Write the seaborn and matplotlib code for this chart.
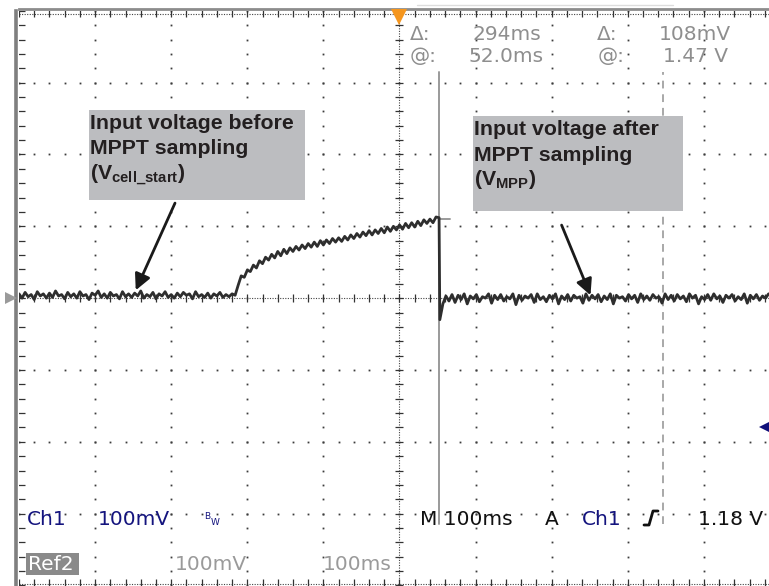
import numpy as np
import pandas as pd
import seaborn as sns
import matplotlib.pyplot as plt
from matplotlib.lines import Line2D
from matplotlib.patches import Rectangle

# scope settings
time_div = 100          # ms/div
volt_div = 0.1          # V/div
center_v = 1.36         # V at screen centre
sample_ms = 4

# cursor readouts
cursor_t = 52.0
delta_t = 294
cursor_v = 1.47
trig_level = 1.18

# trace (mV)
pre_start = -500
pre_mv = [
    1366, 1360, 1368, 1362, 1365, 1358, 1369, 1363, 1366, 1360,
    1367, 1361, 1370, 1363, 1365, 1359, 1368, 1362, 1366, 1360,
    1369, 1363, 1365, 1358, 1367, 1364, 1370, 1361, 1366, 1360,
    1368, 1363, 1365, 1359, 1369, 1362, 1366, 1361, 1367, 1363,
    1370, 1360, 1365, 1362, 1368, 1359, 1366, 1363, 1369, 1361,
    1365, 1360, 1367, 1362, 1368, 1364, 1366, 1359, 1369, 1362,
    1365, 1361, 1367, 1360, 1366, 1363, 1368, 1361, 1365, 1362, 1366]
rise_start = -216
rise_mv = [
    1364, 1378, 1391, 1389, 1399, 1397, 1406, 1402, 1412, 1408,
    1417, 1413, 1421, 1416, 1425, 1419, 1428, 1422, 1430, 1425,
    1432, 1427, 1434, 1429, 1436, 1431, 1438, 1432, 1440, 1434,
    1441, 1436, 1443, 1438, 1444, 1439, 1446, 1441, 1448, 1443,
    1450, 1445, 1452, 1447, 1454, 1448, 1455, 1450, 1457, 1451,
    1459, 1453, 1460, 1455, 1462, 1456, 1464, 1458, 1465, 1459,
    1467, 1461, 1469, 1464, 1470, 1465, 1473, 1472]
post_start = 53
post_mv = [
    1330, 1352, 1363, 1356, 1365, 1354, 1364, 1358, 1366, 1352,
    1363, 1359, 1365, 1355, 1362, 1360, 1366, 1353, 1364, 1358,
    1365, 1356, 1362, 1359, 1366, 1351, 1364, 1357, 1363, 1360,
    1365, 1354, 1366, 1358, 1362, 1355, 1364, 1359, 1366, 1352,
    1363, 1358, 1365, 1356, 1364, 1360, 1362, 1353, 1366, 1357,
    1364, 1359, 1365, 1355, 1363, 1358, 1366, 1352, 1364, 1360,
    1362, 1356, 1365, 1359, 1364, 1354, 1366, 1358, 1363, 1357,
    1365, 1360, 1362, 1353, 1366, 1358, 1364, 1356, 1365, 1359,
    1363, 1355, 1366, 1360, 1364, 1352, 1362, 1358, 1365, 1357,
    1366, 1359, 1363, 1354, 1364, 1360, 1365, 1356, 1362, 1358,
    1366, 1353, 1364, 1359, 1365, 1357, 1363, 1360, 1366]

W, H = 769, 586

sns.set_style("white")
plt.rcParams['font.family'] = ['DejaVu Sans']
plt.rcParams['mathtext.fontset'] = 'custom'
plt.rcParams['mathtext.rm'] = 'Liberation Sans:bold'
plt.rcParams['mathtext.it'] = 'Liberation Sans:bold'
plt.rcParams['mathtext.bf'] = 'Liberation Sans:bold'

segs = []
for start, vals in [(pre_start, pre_mv), (rise_start, rise_mv), (post_start, post_mv)]:
    t = start + sample_ms * np.arange(len(vals))
    segs.append(pd.DataFrame({"t": t, "v": np.array(vals) / 1000.0}))
trace = pd.concat(segs, ignore_index=True)

fig = plt.figure(figsize=(W / 100, H / 100), dpi=100)
ax = fig.add_axes([19 / W, 0.5 / H, 761 / W, (H - 11.3) / H])
lo_v, hi_v = center_v - 4 * volt_div, center_v + 4 * volt_div
ax.set_xlim(-5 * time_div, 5 * time_div)
ax.set_ylim(lo_v, hi_v)
ax.set_xticks([])
ax.set_yticks([])
for s in ["right", "bottom"]:
    ax.spines[s].set_visible(False)
ax.spines["left"].set_color("#7f7f7f")
ax.spines["left"].set_linewidth(2.6)
ax.spines["left"].set_position(("outward", 2))
ax.spines["top"].set_color("#8c8c8c")
ax.spines["top"].set_linewidth(2.0)
ax.spines["top"].set_position(("outward", 1))

# graticule
major_t = np.arange(-4, 5) * time_div
major_v = center_v + np.arange(-3, 4) * volt_div
minor_t = np.arange(-25, 26) * time_div / 5
minor_v = center_v + np.arange(-20, 21) * volt_div / 5
dot = dict(ls="none", marker="s", ms=1.3, color="#3c3c3c", mew=0)
tt, vv = np.meshgrid(major_t[major_t != 0], minor_v)
ax.plot(tt.ravel(), vv.ravel(), **dot)
tt, vv = np.meshgrid(minor_t, major_v[np.abs(major_v - center_v) > 1e-9])
ax.plot(tt.ravel(), vv.ravel(), **dot)
fine = dict(color="#444444", lw=0.8, ls=(0, (1, 1.3)))
ax.axhline(center_v, **fine)
ax.axvline(0, **fine)
ax.axhline(hi_v - 0.004, **fine)
ax.axhline(lo_v + 0.002, **fine)
ax.plot(minor_t, np.full(len(minor_t), center_v), ls="none", marker="|", ms=6, mew=0.9, color="#333333")
ax.plot(np.zeros(len(minor_v)), minor_v, ls="none", marker="_", ms=6, mew=0.9, color="#333333")
ax.plot(minor_t, np.full(len(minor_t), hi_v), ls="none", marker="|", ms=9, mew=0.9, color="#333333")
ax.plot(minor_t, np.full(len(minor_t), lo_v), ls="none", marker="|", ms=9, mew=0.9, color="#333333")
ax.plot(np.full(len(minor_v), -5 * time_div), minor_v, ls="none", marker="_", ms=9, mew=0.9, color="#333333")

# cursors
cur_lo, cur_hi = center_v - 3.15 * volt_div, center_v + 3.15 * volt_div
ax.plot([cursor_t, cursor_t], [cur_lo, cur_hi], color="#9a9a9a", lw=1.4, zorder=3)
ax.plot([cursor_t + delta_t] * 2, [cur_lo, cur_hi], color="#a8a8a8", lw=1.4,
        ls=(0, (4, 3)), zorder=3)
ax.plot([cursor_t, cursor_t + 15], [cursor_v, cursor_v], color="#9a9a9a", lw=1.4, zorder=3)

# waveform
sns.lineplot(data=trace, x="t", y="v", ax=ax, color="#2e2e2e", lw=2.0,
             estimator=None, sort=False, legend=False, zorder=4)
ax.set_xlabel("")
ax.set_ylabel("")

# screen markers
ax.plot([0], [hi_v - 0.009], marker="v", ms=11, color="#f5961e", mew=0,
        clip_on=False, zorder=8)
ax.plot([-511], [center_v], marker=">", ms=9, color="#9a9a9a", mew=0,
        clip_on=False, zorder=8)
ax.plot([480], [trig_level], marker="<", ms=9, color="#10107a", mew=0,
        clip_on=False, zorder=8)

# annotation boxes
bold = dict(family="Liberation Sans", weight="bold", fontsize=15.3,
            color="#231f20", zorder=6)
ax.add_patch(Rectangle((-408, 1.4965), 284, 0.1255, fc="#bcbdc0", ec="none", zorder=5))
ax.text(-407, 1.5957, "Input voltage before", **bold)
ax.text(-407, 1.5609, "MPPT sampling", **bold)
ax.text(-407, 1.5255, r"(V$_{\mathbf{cell\_start}}$)", **bold)
ax.add_patch(Rectangle((96.6, 1.481), 276, 0.1325, fc="#bcbdc0", ec="none", zorder=5))
ax.text(97.5, 1.5874, "Input voltage after", **bold)
ax.text(97.5, 1.5512, "MPPT sampling", **bold)
ax.text(97.5, 1.5177, r"(V$_{\mathbf{MPP}}$)", **bold)
arrow = dict(arrowstyle="-|>", color="#1a1a1a", lw=2, mutation_scale=24,
             shrinkA=0, shrinkB=0)
ax.annotate("", xy=(-346.6, 1.371), xytext=(-295, 1.4923), arrowprops=arrow, zorder=7)
ax.annotate("", xy=(251, 1.364), xytext=(213, 1.4617), arrowprops=arrow, zorder=7)

# readouts
def label(x, y, s, color, size=14.5, **kw):
    fig.text(x / W, 1 - y / H, s, color=color, fontsize=size, va="baseline", **kw)

gray = "#8e8e8e"
navy = "#14147e"
label(410, 40, "Δ:", gray)
label(472, 40, f"{delta_t}ms", gray)
label(597, 40, "Δ:", gray)
label(659, 40, "108mV", gray)
label(410, 62, "@:", gray)
label(468, 62, f"{cursor_t:.1f}ms", gray)
label(598, 62, "@:", gray)
label(663, 62, f"{cursor_v:.2f} V", gray)

label(27, 525, "Ch1", navy)
label(98, 525, "100mV", navy)
label(204, 519, "B", navy, size=6.5)
label(211, 525, "W", navy, size=6.5)
label(420, 525, "M 100ms", "#111111")
label(545, 525, "A", "#111111")
label(582, 525, "Ch1", navy)
label(698, 525, f"{trig_level:.2f} V", "#111111")
fig.add_artist(Line2D(np.array([644, 649, 653, 658]) / W,
                      1 - np.array([525, 525, 511, 511]) / H,
                      color="#111111", lw=2))

fig.add_artist(Rectangle((26 / W, 1 - 575 / H), 53 / W, 22 / H,
                         fc="#8a8a8a", ec="none"))
label(28, 570, "Ref2", "white")
label(175, 570, "100mV", "#9a9a9a")
label(323, 570, "100ms", "#9a9a9a")
fig.add_artist(Line2D([417 / W, 673 / W], [1 - 5 / H, 1 - 5 / H], color="#dddddd", lw=1))

fig.savefig("out.png", dpi=100)
